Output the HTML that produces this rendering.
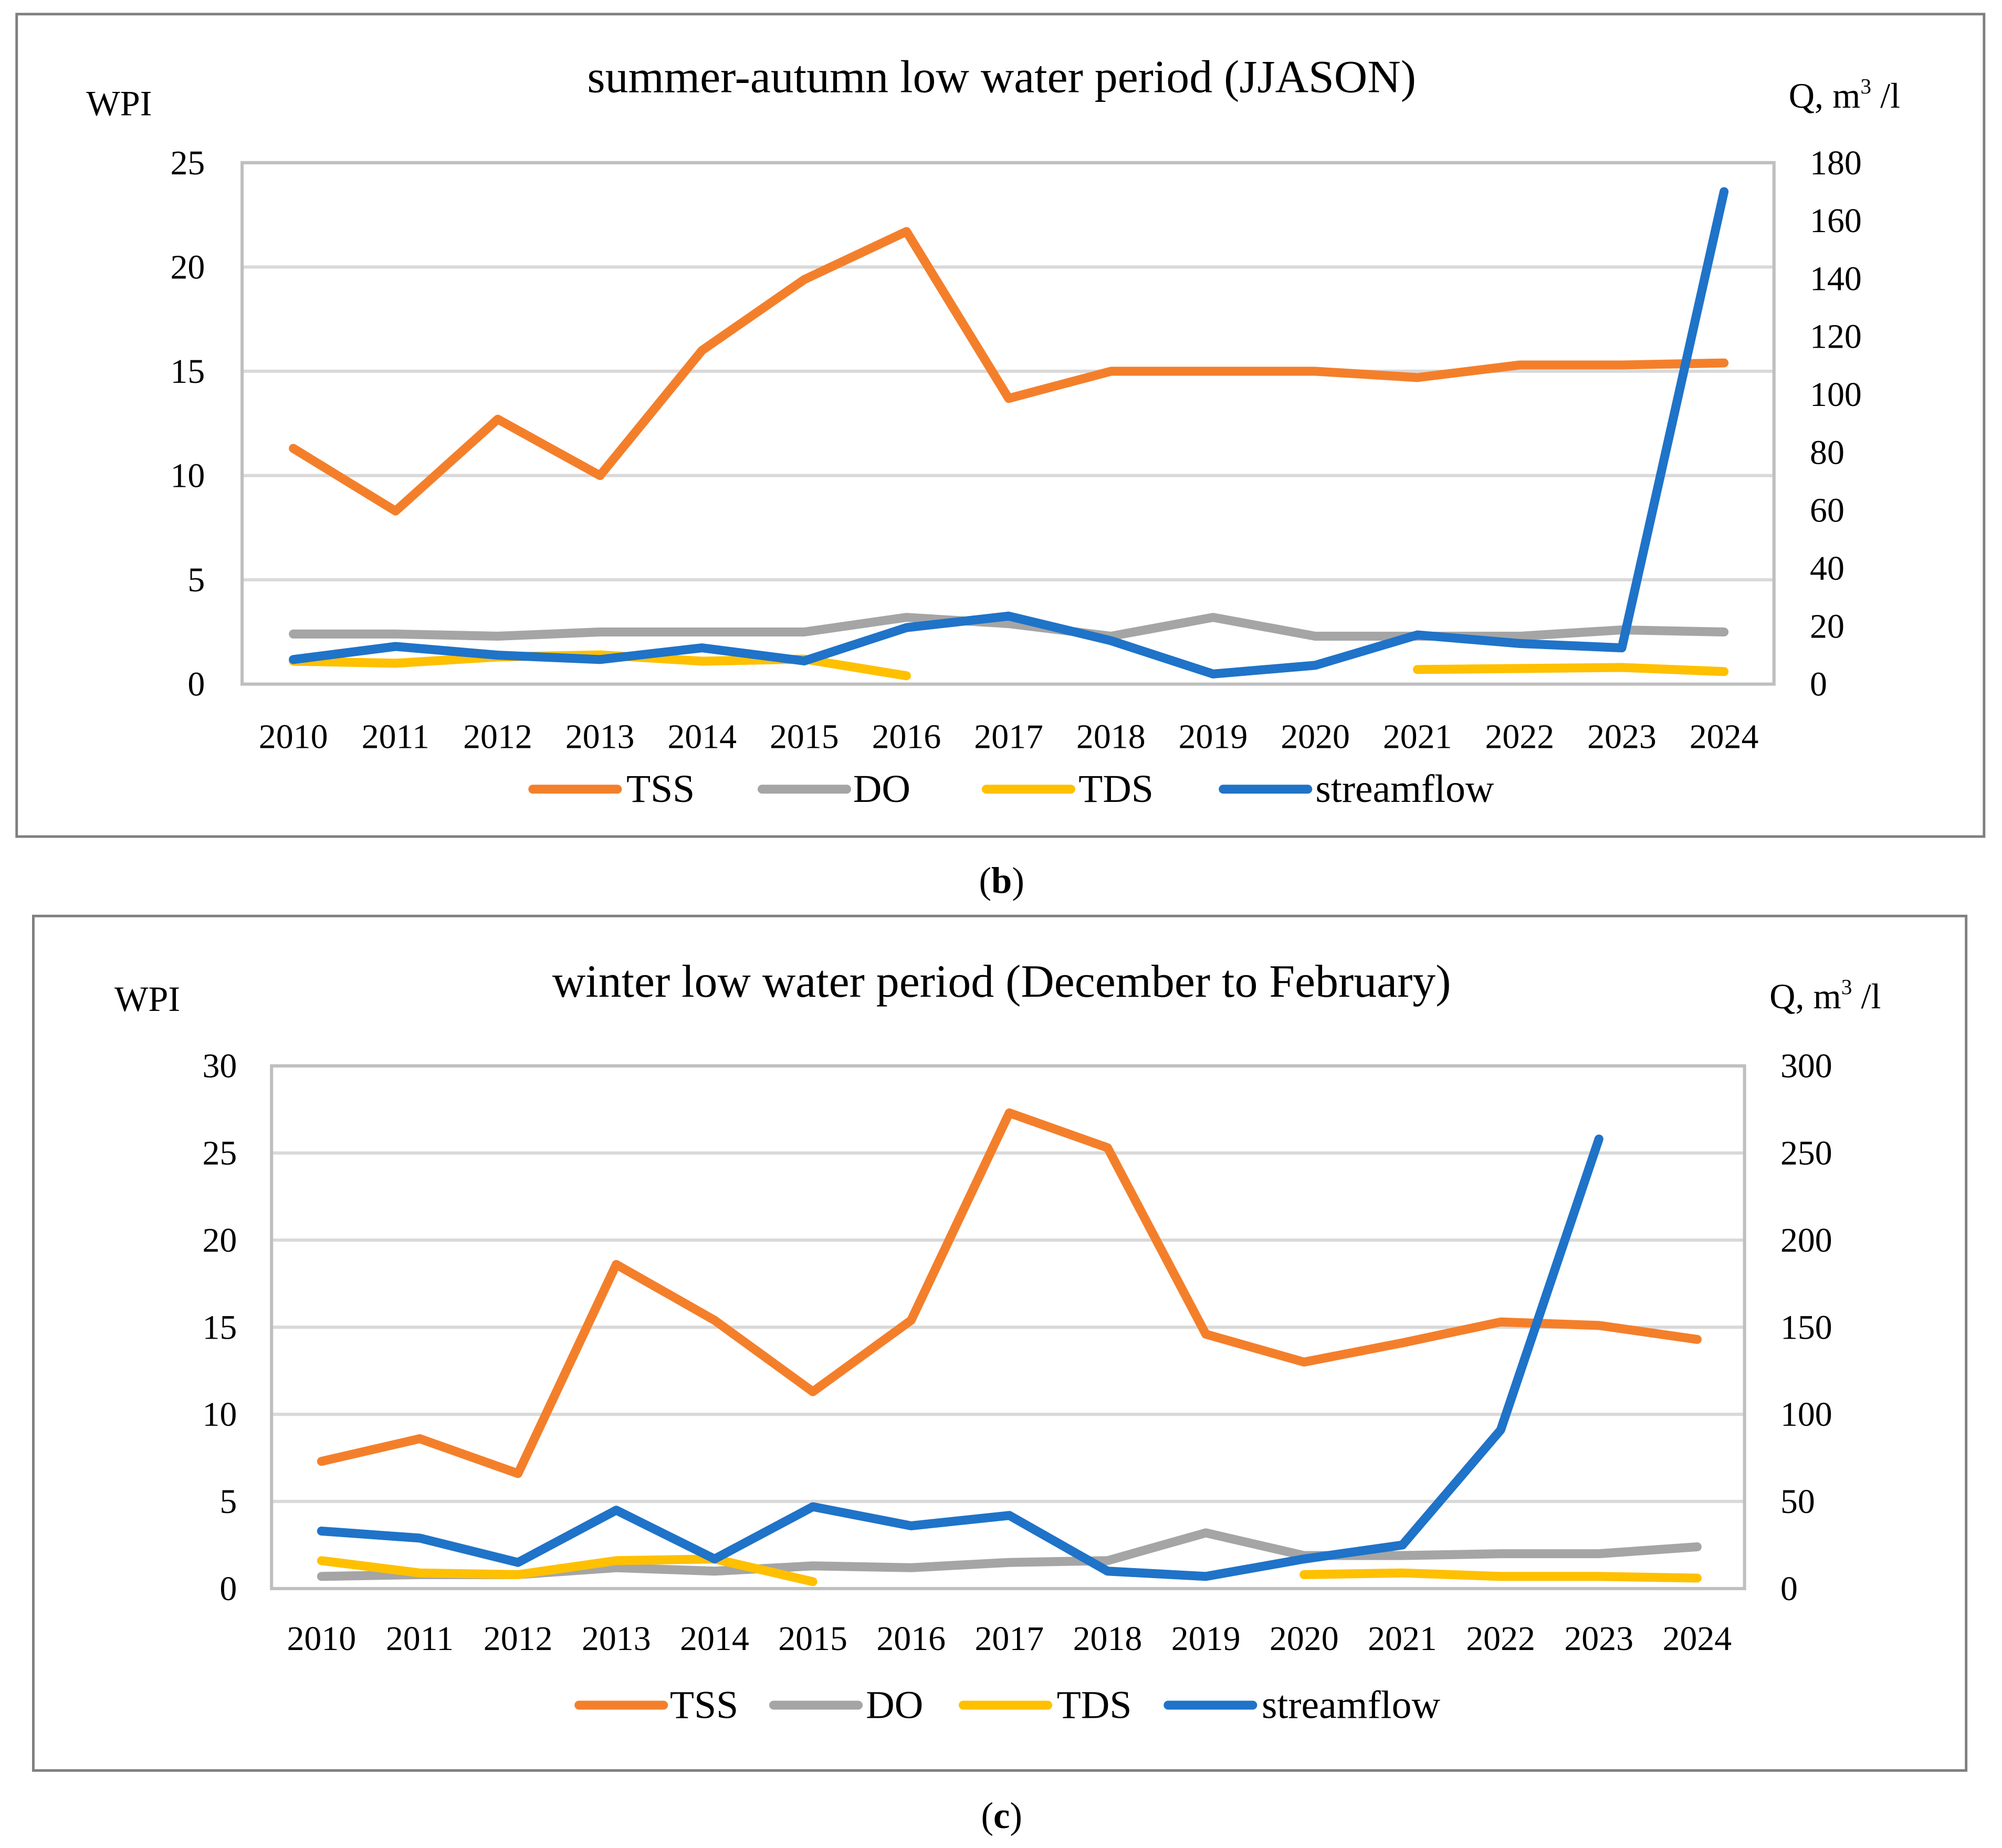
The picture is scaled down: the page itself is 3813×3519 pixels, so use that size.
<!DOCTYPE html>
<html><head><meta charset="utf-8">
<style>
html,body{margin:0;padding:0;background:#fff}
svg{display:block}
text{font-family:"Liberation Serif",serif;fill:#000}
</style></head>
<body>
<svg id="s" width="3813" height="3519" viewBox="0 0 1563 1442.5" xmlns="http://www.w3.org/2000/svg"></svg>
<script>
const years = ["2010","2011","2012","2013","2014","2015","2016","2017","2018","2019","2020","2021","2022","2023","2024"];
const bTSS = [11.3,8.3,12.7,10,16,19.4,21.7,13.7,15,15,15,14.7,15.3,15.3,15.4];
const bDO = [2.4,2.4,2.3,2.5,2.5,2.5,3.2,2.9,2.3,3.2,2.3,2.3,2.3,2.6,2.5];
const bTDS = [1.1,1.0,1.3,1.4,1.1,1.2,0.4,null,null,null,null,0.7,0.75,0.8,0.6];
const bFlow = [8.5,13,10,8.5,12.5,8,19.5,23.5,15,3.5,6.5,17,14,12.5,170];
const bLeftTicks = [0,5,10,15,20,25];
const bRightTicks = [0,20,40,60,80,100,120,140,160,180];
const cTSS = [7.3,8.6,6.6,18.6,15.4,11.3,15.4,27.3,25.3,14.6,13,14.1,15.3,15.1,14.3];
const cDO = [0.7,0.8,0.8,1.2,1.0,1.3,1.2,1.5,1.6,3.2,1.9,1.9,2.0,2.0,2.4];
const cTDS = [1.6,0.9,0.8,1.6,1.7,0.4,null,null,null,null,0.8,0.9,0.7,0.7,0.6];
const cFlow = [33,29,15,45,17,47,36,42,10,7,17,25,91,258,null];
const cLeftTicks = [0,5,10,15,20,25,30];
const cRightTicks = [0,50,100,150,200,250,300];

const NS="http://www.w3.org/2000/svg";
const svg=document.getElementById('s');
function mk(tag,attrs,parent,txt){const e=document.createElementNS(NS,tag);for(const k in attrs)e.setAttribute(k,attrs[k]);if(txt!==undefined)e.textContent=txt;(parent||svg).appendChild(e);return e;}
const COL={TSS:"#f47f2b",DO:"#a5a5a5",TDS:"#ffc000",streamflow:"#1f73c8"};

function chart(cfg){
  const g=mk('g',{});
  
  
  const fr=mk('rect',{x:cfg.fx,y:cfg.fy,width:cfg.fw,height:cfg.fh,fill:'none',stroke:'#7f7f7f','stroke-width':2},g);
  
  const L=cfg.L,R=cfg.R,T=cfg.T,B=cfg.B;
  const yL=v=>B-(v/cfg.lmax)*(B-T);
  const yR=v=>B-(v/cfg.rmax)*(B-T);
  const x=i=>cfg.x0+i*(cfg.x1-cfg.x0)/(years.length-1);
  cfg.lt.forEach(v=>{
    if(v>0){const gl=mk('line',{x1:L,x2:R,y1:yL(v),y2:yL(v),stroke:'#d9d9d9','stroke-width':2.5},g);
    }
    const t=mk('text',{x:cfg.lx,y:yL(v)+9,'text-anchor':'end','font-size':27},g,String(v));
    
  });
  cfg.rt.forEach(v=>{
    const t=mk('text',{x:R+28,y:yR(v)+9,'text-anchor':'start','font-size':27},g,String(v));
    
  });
  const pb=mk('rect',{x:L,y:T,width:R-L,height:B-T,fill:'none',stroke:'#bfbfbf','stroke-width':2.5},g);
  
  years.forEach((yv,i)=>{
    const t=mk('text',{x:x(i),y:cfg.yearY,'text-anchor':'middle','font-size':27},g,yv);
    
  });
  const series=[["TSS",cfg.tss,yL],["DO",cfg.do,yL],["TDS",cfg.tds,yL],["streamflow",cfg.flow,yR]];
  series.forEach(([nm,arr,ys])=>{
    let segs=[],cur=[];
    arr.forEach((v,i)=>{if(v===null){if(cur.length)segs.push(cur);cur=[];}else cur.push(x(i).toFixed(1)+','+ys(v).toFixed(1));});
    if(cur.length)segs.push(cur);
    segs.forEach(s=>{
      const p=mk('polyline',{points:s.join(' '),fill:'none',stroke:COL[nm],'stroke-width':7,'stroke-linejoin':'round','stroke-linecap':'round'},g);
      
    });
  });
  const tt=mk('text',{x:782,y:cfg.titleY,'text-anchor':'middle','font-size':36},g,cfg.title);
  
  const w=mk('text',{x:cfg.wpiX,y:cfg.wpiY,'text-anchor':'middle','font-size':28},g,'WPI');
  
  const q=mk('text',{x:cfg.qX,y:cfg.qY,'text-anchor':'middle','font-size':28},g);
  
  q.textContent='Q, m';
  mk('tspan',{'font-size':17,dy:-11},q,'3');
  mk('tspan',{dy:11},q,' /l');
  cfg.leg.forEach(([nm,lx,tx])=>{
    const lg=mk('g',{},g);
    
    mk('line',{x1:lx,x2:lx+66,y1:cfg.legY,y2:cfg.legY,stroke:COL[nm],'stroke-width':7,'stroke-linecap':'round'},lg);
    mk('text',{x:tx,y:cfg.legY+10,'font-size':31},lg,nm);
  });
  const cap=mk('text',{x:782,y:cfg.capY,'text-anchor':'middle','font-size':29},svg);
  
  cap.textContent='(';mk('tspan',{'font-weight':'bold'},cap,cfg.cap);mk('tspan',{},cap,')');
}
chart({name:'chart-b',fx:13,fy:11,fw:1536,fh:642,L:189,R:1385,T:127,B:534,x0:229,x1:1346,lmax:25,rmax:180,
  lt:bLeftTicks,rt:bRightTicks,lx:160,yearY:584,tss:bTSS,do:bDO,tds:bTDS,flow:bFlow,
  title:'summer-autumn low water period (JJASON)',titleY:72,wpiX:93,wpiY:90,qX:1440,qY:84,legY:616,
  leg:[["TSS",416,489],["DO",595,666],["TDS",770,842],["streamflow",955,1027]],capY:697,cap:'b'});
chart({name:'chart-c',fx:26,fy:715,fw:1509,fh:667,L:212,R:1362,T:832,B:1240,x0:251,x1:1325,lmax:30,rmax:300,
  lt:cLeftTicks,rt:cRightTicks,lx:185,yearY:1288,tss:cTSS,do:cDO,tds:cTDS,flow:cFlow,
  title:'winter low water period (December to February)',titleY:778,wpiX:115,wpiY:789,qX:1425,qY:787,legY:1331,
  leg:[["TSS",452,523],["DO",604,676],["TDS",752,825],["streamflow",912,985]],capY:1427,cap:'c'});
</script>
</body></html>
